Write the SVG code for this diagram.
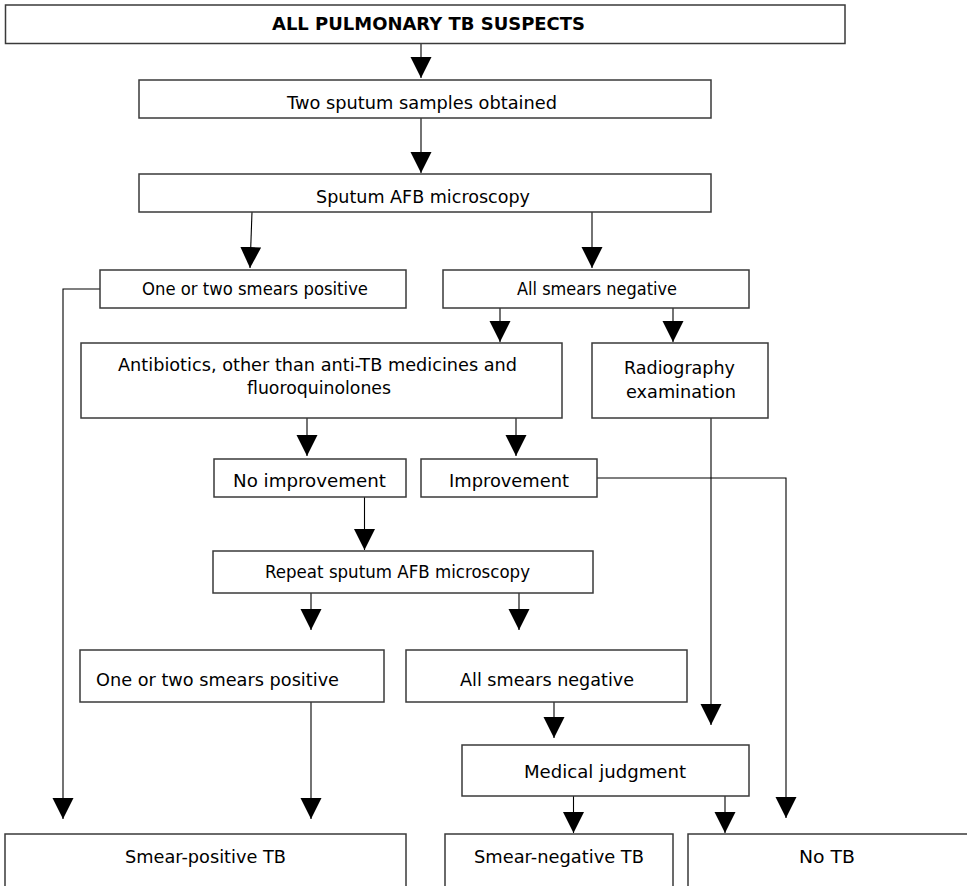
<svg xmlns="http://www.w3.org/2000/svg" width="967" height="886" viewBox="0 0 967 886">
<style>
.box{fill:#fff;stroke:#3a3a3a;stroke-width:1.5}
.t{font-family:"DejaVu Sans","Liberation Sans",sans-serif;font-size:17.5px;fill:#000}
.b{font-weight:bold;font-size:18px}
.c{fill:none;stroke:#000;stroke-width:1.1}
</style>
<defs>
<marker id="ah" markerWidth="22" markerHeight="22" refX="21" refY="10.5" orient="auto" markerUnits="userSpaceOnUse">
<path d="M0,0 L21,10.5 L0,21 z" fill="#000"/>
</marker>
</defs>
<rect width="967" height="886" fill="#fff"/>
<g id="connectors">
<path class="c" d="M421,44 V78" marker-end="url(#ah)"/>
<path class="c" d="M421,118 V173" marker-end="url(#ah)"/>
<path class="c" d="M252,212 L250,268" marker-end="url(#ah)"/>
<path class="c" d="M592,212 V268" marker-end="url(#ah)"/>
<path class="c" d="M100,289 H63 V819" marker-end="url(#ah)"/>
<path class="c" d="M500,308 V342" marker-end="url(#ah)"/>
<path class="c" d="M673,308 V342" marker-end="url(#ah)"/>
<path class="c" d="M307,418 V456" marker-end="url(#ah)"/>
<path class="c" d="M516,418 V456" marker-end="url(#ah)"/>
<path class="c" d="M711,418 V725" marker-end="url(#ah)"/>
<path class="c" d="M597,478 H786 V818" marker-end="url(#ah)"/>
<path class="c" d="M364.5,497 V550" marker-end="url(#ah)"/>
<path class="c" d="M311,593 V630" marker-end="url(#ah)"/>
<path class="c" d="M519,593 V630" marker-end="url(#ah)"/>
<path class="c" d="M311,702 V819" marker-end="url(#ah)"/>
<path class="c" d="M554,702 V738" marker-end="url(#ah)"/>
<path class="c" d="M573.5,796 V833" marker-end="url(#ah)"/>
<path class="c" d="M725,796 V833" marker-end="url(#ah)"/>
</g>
<g id="n1"><rect class="box" x="5.5" y="5" width="839.5" height="38.5"/><text class="t b" x="272" y="29.5" textLength="313" lengthAdjust="spacingAndGlyphs">ALL PULMONARY TB SUSPECTS</text></g>
<g id="n2"><rect class="box" x="139" y="80" width="572" height="38"/><text class="t" x="287" y="109" textLength="270" lengthAdjust="spacingAndGlyphs">Two sputum samples obtained</text></g>
<g id="n3"><rect class="box" x="139" y="174" width="572" height="38"/><text class="t" x="316" y="203" textLength="214" lengthAdjust="spacingAndGlyphs">Sputum AFB microscopy</text></g>
<g id="n4"><rect class="box" x="100" y="270" width="306" height="38"/><text class="t" x="142" y="295" textLength="226" lengthAdjust="spacingAndGlyphs">One or two smears positive</text></g>
<g id="n5"><rect class="box" x="443" y="270" width="306" height="38"/><text class="t" x="517" y="295" textLength="160" lengthAdjust="spacingAndGlyphs">All smears negative</text></g>
<g id="n6"><rect class="box" x="81" y="343" width="481" height="75"/><text class="t" x="118" y="371" textLength="399" lengthAdjust="spacingAndGlyphs">Antibiotics, other than anti-TB medicines and</text><text class="t" x="247" y="394" textLength="144" lengthAdjust="spacingAndGlyphs">fluoroquinolones</text></g>
<g id="n7"><rect class="box" x="592" y="343" width="176" height="75"/><text class="t" x="624" y="374" textLength="111" lengthAdjust="spacingAndGlyphs">Radiography</text><text class="t" x="626" y="398" textLength="110" lengthAdjust="spacingAndGlyphs">examination</text></g>
<g id="n8"><rect class="box" x="214" y="459" width="192" height="38"/><text class="t" x="233" y="487" textLength="153" lengthAdjust="spacingAndGlyphs">No improvement</text></g>
<g id="n9"><rect class="box" x="421" y="459" width="176" height="38"/><text class="t" x="449" y="487" textLength="120" lengthAdjust="spacingAndGlyphs">Improvement</text></g>
<g id="n10"><rect class="box" x="213" y="551" width="380" height="42"/><text class="t" x="265" y="578" textLength="265" lengthAdjust="spacingAndGlyphs">Repeat sputum AFB microscopy</text></g>
<g id="n11"><rect class="box" x="80" y="650" width="304" height="52"/><text class="t" x="96" y="686" textLength="243" lengthAdjust="spacingAndGlyphs">One or two smears positive</text></g>
<g id="n12"><rect class="box" x="406" y="650" width="281" height="52"/><text class="t" x="460" y="686" textLength="174" lengthAdjust="spacingAndGlyphs">All smears negative</text></g>
<g id="n13"><rect class="box" x="462" y="745" width="287" height="51"/><text class="t" x="524" y="778" textLength="162" lengthAdjust="spacingAndGlyphs">Medical judgment</text></g>
<g id="n14"><rect class="box" x="5" y="834" width="401" height="70"/><text class="t" x="125" y="863" textLength="161" lengthAdjust="spacingAndGlyphs">Smear-positive TB</text></g>
<g id="n15"><rect class="box" x="445" y="834" width="228" height="70"/><text class="t" x="474" y="863" textLength="170" lengthAdjust="spacingAndGlyphs">Smear-negative TB</text></g>
<g id="n16"><rect class="box" x="688" y="834" width="300" height="70"/><text class="t" x="799" y="863" textLength="56" lengthAdjust="spacingAndGlyphs">No TB</text></g>
</svg>
